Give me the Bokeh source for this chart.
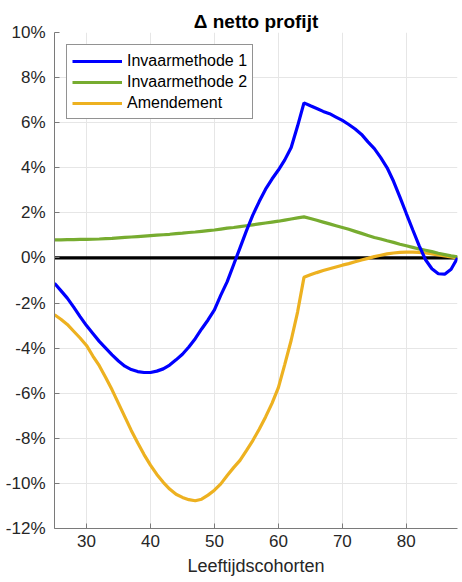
from bokeh.plotting import figure
from bokeh.models import Range1d, FixedTicker
from bokeh.embed import file_html
from bokeh.resources import INLINE

# ---- data (percent) ----
ages = list(range(25, 89))

invaar1 = [-1.12, -1.45, -1.78, -2.18, -2.6, -3.0, -3.35, -3.7, -4.0, -4.3,
           -4.57, -4.8, -4.95, -5.04, -5.08, -5.08, -5.02, -4.92, -4.75, -4.52,
           -4.27, -3.95, -3.58, -3.15, -2.75, -2.3, -1.65, -1.05, -0.3, 0.45,
           1.2, 1.9, 2.5, 3.05, 3.5, 3.9, 4.35, 4.9, 5.85, 6.88,
           6.75, 6.63, 6.5, 6.4, 6.25, 6.1, 5.92, 5.72, 5.48, 5.15,
           4.85, 4.45, 4.0, 3.4, 2.7, 1.97, 1.25, 0.55, -0.08, -0.48,
           -0.7, -0.72, -0.5, 0.0]

invaar2 = [0.80, 0.80, 0.81, 0.81, 0.82, 0.82, 0.83, 0.84, 0.86, 0.87,
           0.89, 0.91, 0.93, 0.95, 0.97, 0.99, 1.01, 1.03, 1.05, 1.08,
           1.10, 1.13, 1.15, 1.18, 1.21, 1.24, 1.28, 1.32, 1.35, 1.39,
           1.43, 1.47, 1.51, 1.55, 1.59, 1.63, 1.68, 1.73, 1.78, 1.82,
           1.75, 1.67, 1.59, 1.51, 1.43, 1.35, 1.27, 1.18, 1.09, 1.00,
           0.91, 0.84, 0.76, 0.69, 0.61, 0.54, 0.47, 0.40, 0.34, 0.28,
           0.21, 0.15, 0.09, 0.05]

amendement = [-2.52, -2.72, -2.95, -3.25, -3.55, -3.88, -4.35, -4.78, -5.3, -5.85,
              -6.45, -7.05, -7.65, -8.2, -8.72, -9.19, -9.6, -9.95, -10.25, -10.48,
              -10.62, -10.72, -10.77, -10.7, -10.52, -10.3, -10.02, -9.65, -9.3, -8.98,
              -8.55, -8.1, -7.6, -7.05, -6.45, -5.75, -4.72, -3.65, -2.4, -0.86,
              -0.75, -0.65, -0.56, -0.48, -0.4, -0.32, -0.25, -0.17, -0.09, -0.02,
              0.06, 0.12, 0.18, 0.22, 0.25, 0.26, 0.26, 0.25, 0.22, 0.18,
              0.13, 0.09, 0.05, 0.0]

zero_line = [0.0] * len(ages)

x_ticks = [30, 40, 50, 60, 70, 80]
y_ticks = [-12, -10, -8, -6, -4, -2, 0, 2, 4, 6, 8, 10]
y_tick_labels = ["-12%", "-10%", "-8%", "-6%", "-4%", "-2%", "0%", "2%", "4%", "6%", "8%", "10%"]

series_names = ["Invaarmethode 1", "Invaarmethode 2", "Amendement"]

FONT = "Liberation Sans"
TXT = "#262626"
AX = "#7a7a7a"

p = figure(width=458, height=580, output_backend="svg", toolbar_location=None,
           x_range=Range1d(25, 88), y_range=Range1d(-12, 10),
           min_border_left=54, min_border_right=1, min_border_top=32, min_border_bottom=52,
           title="\u0394 netto profijt")
p.outline_line_color = None
p.background_fill_color = "white"
p.border_fill_color = "white"

p.title.align = "center"
p.title.text_font = FONT
p.title.text_font_size = "19px"
p.title.text_font_style = "bold"
p.title.text_color = "#000000"
p.title.standoff = 2

for ax in (p.xaxis[0], p.yaxis[0]):
    ax.major_tick_in = 5
    ax.major_tick_out = 0
    ax.minor_tick_in = 0
    ax.minor_tick_out = 0
    ax.axis_line_color = AX
    ax.axis_line_width = 1
    ax.major_tick_line_color = AX
    ax.major_label_text_font = FONT
    ax.major_label_text_font_size = "17px"
    ax.major_label_text_color = TXT

p.xaxis.ticker = FixedTicker(ticks=x_ticks)
p.yaxis.ticker = FixedTicker(ticks=y_ticks)
p.yaxis.major_label_overrides = {t: l for t, l in zip(y_ticks, y_tick_labels)}
p.yaxis.major_label_standoff = 9
p.xaxis.major_label_standoff = 6

p.xaxis.axis_label = "Leeftijdscohorten"
p.xaxis.axis_label_text_font = FONT
p.xaxis.axis_label_text_font_style = "normal"
p.xaxis.axis_label_text_font_size = "18px"
p.xaxis.axis_label_text_color = TXT
p.xaxis.axis_label_standoff = 6

p.xgrid.grid_line_color = "#e6e6e6"
p.ygrid.grid_line_color = "#e6e6e6"
p.xgrid.ticker = FixedTicker(ticks=x_ticks)
p.ygrid.ticker = FixedTicker(ticks=y_ticks)

p.line(ages, zero_line, line_color="#000000", line_width=3.2)
p.line(ages, amendement, line_color="#EDB120", line_width=3.2, legend_label=series_names[2])
p.line(ages, invaar2, line_color="#77AC30", line_width=3.2, legend_label=series_names[1])
p.line(ages, invaar1, line_color="#0000FF", line_width=3.2, legend_label=series_names[0])

# legend order as in reference
items = p.legend[0].items
p.legend[0].items = [items[2], items[1], items[0]]

lg = p.legend[0]
lg.location = "top_left"
lg.margin = 12
lg.border_line_color = "#262626"
lg.border_line_width = 1
lg.background_fill_color = "white"
lg.background_fill_alpha = 1
lg.label_text_font = FONT
lg.label_text_font_size = "16px"
lg.label_text_color = "#000000"
lg.glyph_width = 50
lg.glyph_height = 20
lg.label_height = 21
lg.spacing = 0
lg.padding = 5
lg.label_standoff = 5

open("out.html", "w").write(file_html(p, INLINE))
